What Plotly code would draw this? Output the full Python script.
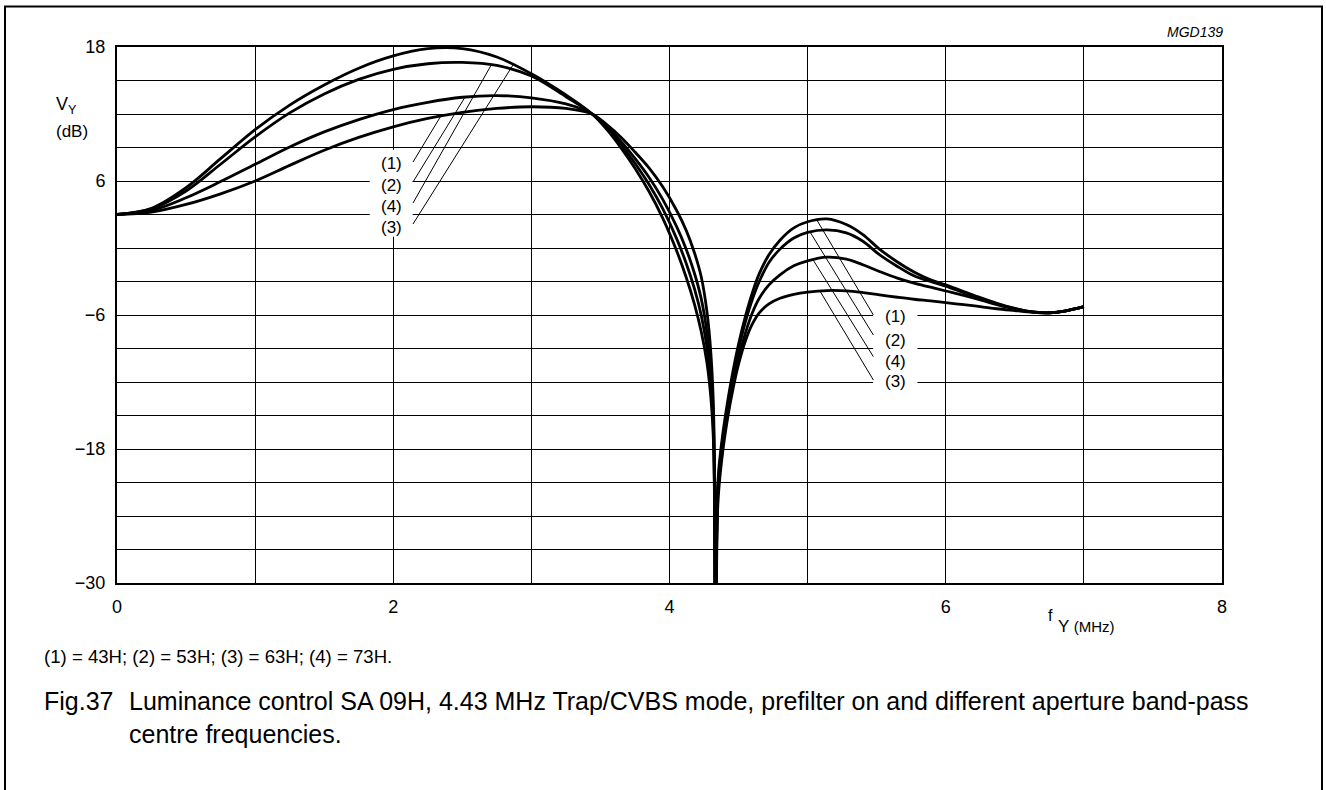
import plotly.graph_objects as go

W, H = 1326, 790
ML, MR, MT, MB = 117, 104, 47, 207

# frequency axis (MHz) shared by all four curves
freq = [0, 0.25, 0.5, 0.75, 1.0, 1.25, 1.5, 1.75, 2.0, 2.25, 2.5, 2.75, 3.0, 3.25, 3.44,
        3.55, 3.65, 3.75, 3.85, 3.95, 4.05, 4.12, 4.18, 4.23, 4.27, 4.30, 4.32, 4.335,
        4.35, 4.38, 4.42, 4.46, 4.5, 4.55, 4.6, 4.65, 4.72, 4.8, 4.9, 5.0, 5.14, 5.28,
        5.4, 5.52, 5.65, 5.77, 5.89, 6.0, 6.13, 6.25, 6.37, 6.5, 6.63, 6.75, 6.87, 7.0]

# V_Y (dB) per aperture centre frequency setting
vy_43h = [3.0, 3.22, 3.9, 4.85, 6.0, 7.4, 8.75, 9.9, 10.85, 11.6, 12.15, 12.5, 12.65, 12.5, 12.0,
          11.0, 9.9, 8.6, 7.2, 5.5, 3.4, 1.6, -0.4, -2.6, -5.6, -9.5, -15, -45,
          -21, -17.2, -13.8, -11.0, -8.6, -6.1, -4.0, -2.3, -0.6, 0.7, 1.8, 2.35, 2.6, 2.1,
          1.2, -0.1, -1.25, -2.15, -2.85, -3.3, -3.9, -4.45, -4.95, -5.4, -5.72, -5.8, -5.62, -5.25]
vy_53h = [3.0, 3.36, 4.5, 5.95, 7.5, 9.05, 10.4, 11.5, 12.4, 13.05, 13.5, 13.65, 13.45, 12.9, 12.0,
          10.82, 9.52, 8.02, 6.36, 4.38, 1.96, -0.08, -2.24, -4.56, -7.44, -11.1, -16.2, -45,
          -21.5, -17.6, -14.3, -11.5, -9.1, -6.6, -4.6, -3.0, -1.3, -0.1, 0.9, 1.4, 1.62, 1.35,
          0.6, -0.6, -1.65, -2.49, -3.0, -3.42, -4.0, -4.5, -5.0, -5.43, -5.73, -5.8, -5.62, -5.25]
vy_63h = [3.0, 3.55, 5.4, 8.0, 10.6, 12.8, 14.6, 16.1, 17.2, 17.85, 17.85, 17.1, 15.6, 13.7, 12.0,
          10.55, 8.95, 7.15, 5.1, 2.7, -0.2, -2.6, -5.0, -7.5, -10.2, -13.5, -18, -45,
          -23, -18.8, -15.3, -12.6, -10.4, -8.3, -6.8, -5.8, -5.0, -4.5, -4.15, -3.95, -3.81, -3.84,
          -3.99, -4.2, -4.41, -4.59, -4.74, -4.89, -5.08, -5.25, -5.44, -5.6, -5.75, -5.8, -5.62, -5.25]
vy_73h = [3.0, 3.5, 5.1, 7.5, 9.95, 12.1, 13.8, 15.1, 16.0, 16.5, 16.62, 16.35, 15.4, 13.55, 12.0,
          10.69, 9.24, 7.59, 5.73, 3.54, 0.88, -1.34, -3.62, -6.03, -8.82, -12.3, -17.1, -45,
          -22, -18.2, -14.9, -12.2, -9.9, -7.6, -5.8, -4.5, -3.3, -2.4, -1.6, -1.15, -0.82, -1.0,
          -1.5, -2.1, -2.7, -3.15, -3.51, -3.85, -4.25, -4.65, -5.08, -5.47, -5.74, -5.8, -5.62, -5.25]

curve_labels = ["(1)", "(2)", "(4)", "(3)"]

# callout labels and leader lines (data coords), order matches curve_labels
left_lab_x = 1.99
left_lab_y = [7.61, 5.64, 3.76, 1.88]
left_lead_x0 = 2.143
left_lead_y0 = [7.70, 5.91, 4.03, 2.15]
left_lead_x1 = [2.346, 2.52, 2.71, 2.87]
left_lead_y1 = [11.85, 13.52, 16.4, 16.45]

right_lab_x = 5.634
right_lab_y = [-6.15, -8.24, -10.12, -11.97]
right_lead_x0 = 5.476
right_lead_y0 = [-6.0, -7.79, -9.73, -11.82]
right_lead_x1 = [5.067, 5.018, 5.04, 5.09]
right_lead_y1 = [2.5, 1.42, -1.07, -3.87]

FONT = "Liberation Sans, Arial, Helvetica, sans-serif"


def px_x(p):
    return (p - ML) / (W - ML - MR)


def px_y(p):
    return (H - MB - p) / (H - MT - MB)


fig = go.Figure()

for vals in [vy_43h, vy_53h, vy_63h, vy_73h]:
    fig.add_trace(go.Scatter(x=freq, y=vals, mode="lines",
                             line=dict(color="black", width=2.8, shape="spline", smoothing=1.0),
                             showlegend=False, hoverinfo="skip"))

# leader lines
for i in range(4):
    fig.add_trace(go.Scatter(x=[left_lead_x0, left_lead_x1[i]], y=[left_lead_y0[i], left_lead_y1[i]],
                             mode="lines", line=dict(color="black", width=1),
                             showlegend=False, hoverinfo="skip"))
    fig.add_trace(go.Scatter(x=[right_lead_x0, right_lead_x1[i]], y=[right_lead_y0[i], right_lead_y1[i]],
                             mode="lines", line=dict(color="black", width=1),
                             showlegend=False, hoverinfo="skip"))

# white patches behind the callout labels (break the grid)
fig.add_shape(type="rect", x0=1.83, x1=2.14, y0=1.0, y1=8.8, layer="between",
              fillcolor="white", line_width=0)
fig.add_shape(type="rect", x0=5.474, x1=5.795, y0=-12.9, y1=-5.1, layer="between",
              fillcolor="white", line_width=0)

for i, lab in enumerate(curve_labels):
    fig.add_annotation(x=left_lab_x, y=left_lab_y[i], text=lab, showarrow=False,
                       font=dict(size=17, family=FONT, color="black"))
    fig.add_annotation(x=right_lab_x, y=right_lab_y[i], text=lab, showarrow=False,
                       font=dict(size=17, family=FONT, color="black"))

# outer frame (open at the bottom, runs off the page)
fig.add_shape(type="path", xref="paper", yref="paper",
              path="M %f %f L %f %f L %f %f L %f %f" % (px_x(5), px_y(800), px_x(5), px_y(6.5),
                                                       px_x(1322), px_y(6.5), px_x(1322), px_y(800)),
              line=dict(color="black", width=2))

txt = [
    ("V<sub>Y</sub>", 66, 106, 18, "center", False),
    ("(dB)", 72, 131, 17, "center", False),
    ("MGD139", 1225, 32, 14, "right", True),
    ("f", 1050, 615, 16, "center", False),
    ("Y <span style='font-size:15px'>(MHz)</span>", 1056, 626, 17, "left", False),
    ("(1) = 43H; (2) = 53H; (3) = 63H; (4) = 73H.", 42, 656, 18.6, "left", False),
    ("Fig.37", 42, 701, 25, "left", False),
    ("Luminance control SA 09H, 4.43 MHz Trap/CVBS mode, prefilter on and different aperture band-pass"
     "<br>centre frequencies.", 127, 717, 25, "left", False),
]
for t, x, y, s, anchor, ital in txt:
    if ital:
        t = "<i>" + t + "</i>"
    fig.add_annotation(xref="paper", yref="paper", x=px_x(x), y=px_y(y), text=t,
                       showarrow=False, xanchor=anchor, yanchor="middle", align="left",
                       font=dict(size=s, family=FONT, color="black"))

axis_common = dict(showgrid=True, gridcolor="black", gridwidth=1, zeroline=False,
                   showline=True, linecolor="black", linewidth=2, mirror=True, ticks="",
                   tickfont=dict(size=18, family=FONT, color="black"), ticklabelstandoff=6)

fig.update_xaxes(range=[0, 8], tick0=0, dtick=2,
                 minor=dict(dtick=1, showgrid=True, gridcolor="black", gridwidth=1), **axis_common)
fig.update_yaxes(range=[-30, 18], tick0=-30, dtick=12,
                 minor=dict(dtick=3, showgrid=True, gridcolor="black", gridwidth=1), **axis_common)

fig.update_layout(width=W, height=H, margin=dict(l=ML, r=MR, t=MT, b=MB),
                  paper_bgcolor="white", plot_bgcolor="white", font=dict(family=FONT))

fig.write_html("out.html", config={"displayModeBar": False},
               post_script="document.body.style.margin='0';document.body.style.overflow='hidden';")
